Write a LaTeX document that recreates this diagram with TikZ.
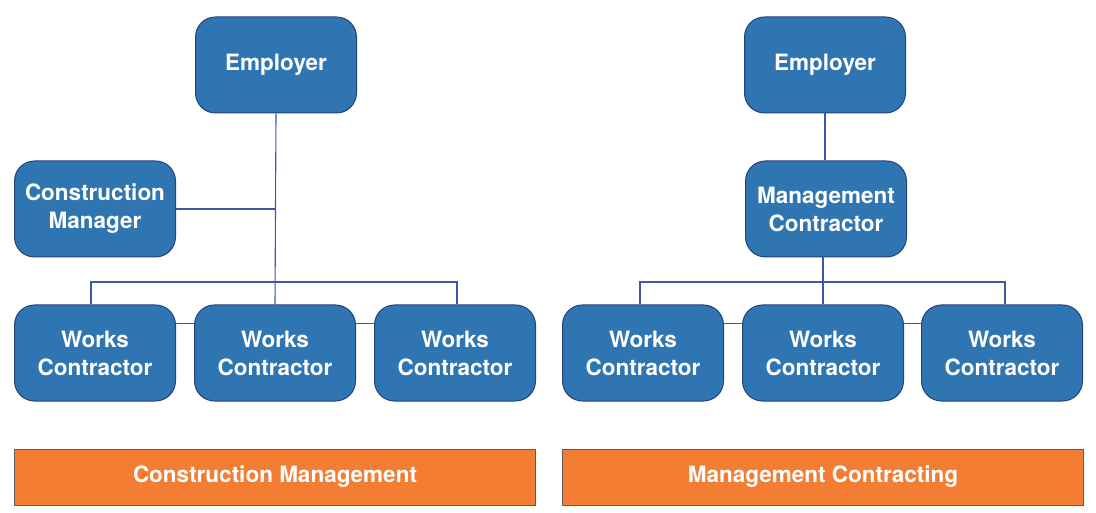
\documentclass[tikz,border=0pt]{standalone}
\usepackage{fontspec}
\setmainfont{TeX Gyre Heros}
\usepackage{xcolor}
\usetikzlibrary{arrows,shapes}

\definecolor{boxblue}{RGB}{47,117,178}
\definecolor{boxedge}{RGB}{36,66,122}
\definecolor{linkblue}{RGB}{60,88,166}
\definecolor{bandorange}{RGB}{243,125,50}
\definecolor{bandedge}{RGB}{100,88,96}

\tikzset{
  party/.style={rounded corners=20pt, fill=boxblue, draw=boxedge, line width=1pt,
    minimum width=161pt, minimum height=96pt, inner sep=0pt, align=center,
    text=white, font=\fontsize{22.5}{28}\selectfont\bfseries},
  band/.style={fill=bandorange, draw=bandedge, line width=1pt,
    minimum width=521pt, minimum height=56pt, inner sep=0pt,
    text=white, font=\fontsize{22.5}{27}\selectfont\bfseries},
  link/.style={draw=linkblue, line width=1.1pt}
}

\begin{document}
\begin{tikzpicture}[x=1pt, y=-1pt]
\useasboundingbox (0,0) rectangle (1096,513);
% construction management
\node[party] (emp1) at (276,65) {Employer};
\node[party] (cm) at (95,209) {Construction\\Manager};
\node[party] (wc11) at (95,353) {Works\\Contractor};
\node[party] (wc12) at (275,353) {Works\\Contractor};
\node[party] (wc13) at (455,353) {Works\\Contractor};
\coordinate (bar1) at (275,282);
\draw[link] (emp1.south) -- (wc12.north);
\draw[link] (cm.east) -- (emp1.south |- cm.east);
\draw[link] ([xshift=-4pt]wc11.north) |- (bar1) -| ([xshift=2pt]wc13.north);
\draw[link] ([yshift=-19pt]wc11.north east) -- ([yshift=-19pt]wc12.north west);
\draw[link] ([yshift=-19pt]wc12.north east) -- ([yshift=-19pt]wc13.north west);
\node[band] (cmband) at (275,477) {Construction Management};
% management contracting
\node[party] (emp2) at (825,65) {Employer};
\node[party] (mc) at (826,209) {Management\\Contractor};
\node[party] (wc21) at (643,353) {Works\\Contractor};
\node[party] (wc22) at (823,353) {Works\\Contractor};
\node[party] (wc23) at (1002,353) {Works\\Contractor};
\coordinate (bar2) at (823,282);
\draw[link] (emp2.south) -- (mc.north -| emp2.south);
\draw[link] (mc.south -| wc22.north) -- (wc22.north);
\draw[link] ([xshift=-3pt]wc21.north) |- (bar2) -| ([xshift=3pt]wc23.north);
\draw[link] ([yshift=-19pt]wc21.north east) -- ([yshift=-19pt]wc22.north west);
\draw[link] ([yshift=-19pt]wc22.north east) -- ([yshift=-19pt]wc23.north west);
\node[band] (mcband) at (823,477) {Management Contracting};
\end{tikzpicture}
\end{document}
